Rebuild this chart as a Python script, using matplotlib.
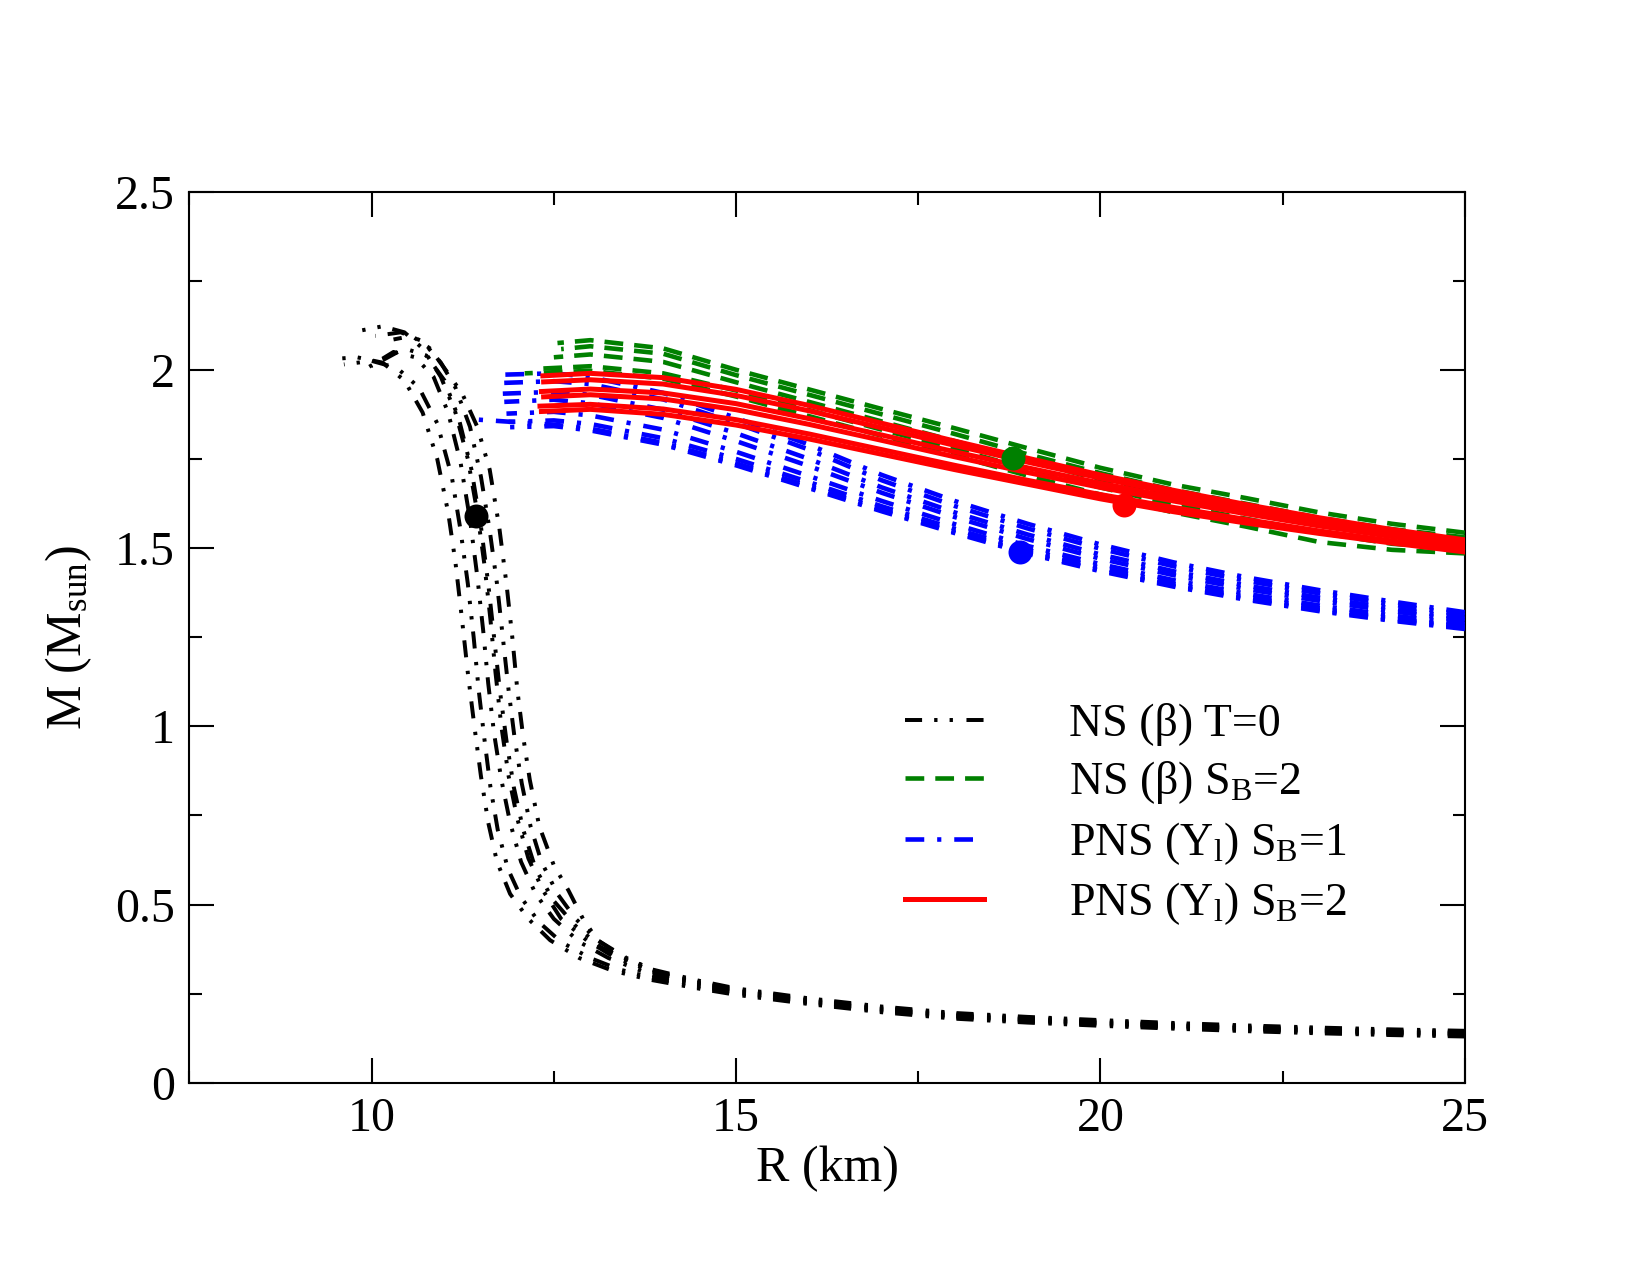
import numpy as np
import matplotlib.pyplot as plt
from matplotlib.ticker import MultipleLocator, FormatStrFormatter

plt.rcParams['font.family'] = ['Liberation Serif', 'DejaVu Serif']
plt.rcParams['mathtext.fontset'] = 'custom'
plt.rcParams['mathtext.rm'] = 'Liberation Serif'
plt.rcParams['mathtext.it'] = 'Liberation Serif:italic'
plt.rcParams['lines.scale_dashes'] = False

# ---- NS (beta) T=0 : black, dash-dot-dot ----
tail_r = [16, 17, 18, 19, 20, 21, 22, 23, 24, 25]
ns0_r = [
    [9.45, 9.8, 10.15, 10.45, 10.7, 10.9, 11.05, 11.15, 11.24, 11.32, 11.41, 11.5, 11.6, 11.72, 11.9,
     12.15, 12.45, 12.85, 13.3, 13.8, 14.5, 15] + tail_r,
    [9.62, 10.0, 10.35, 10.65, 10.9, 11.1, 11.22, 11.32, 11.4, 11.47, 11.55, 11.63, 11.73, 11.87, 12.05,
     12.3, 12.6, 13.0, 13.4, 13.85, 14.5, 15] + tail_r,
    [9.9, 10.3, 10.6, 10.85, 11.05, 11.22, 11.35, 11.45, 11.53, 11.6, 11.68, 11.78, 11.9, 12.05, 12.25,
     12.5, 12.85, 13.25, 13.85, 14.5, 15] + tail_r,
    [10.0, 10.45, 10.75, 11.0, 11.2, 11.37, 11.5, 11.6, 11.68, 11.76, 11.85, 11.95, 12.08, 12.25, 12.5,
     12.8, 13.15, 13.5, 13.9, 14.5, 15] + tail_r,
    [9.85, 10.15, 10.45, 10.7, 10.95, 11.15, 11.32, 11.45, 11.55, 11.63, 11.7, 11.78, 11.88, 12.0, 12.15,
     12.35, 12.6, 12.95, 13.35, 13.9, 14.5, 15] + tail_r,
    [10.05, 10.4, 10.7, 10.95, 11.15, 11.35, 11.5, 11.62, 11.72, 11.8, 11.88, 11.96, 12.06, 12.18, 12.33,
     12.55, 12.8, 13.1, 13.5, 13.9, 14.5, 15] + tail_r,
    [10.3, 10.55, 10.8, 11.05, 11.25, 11.45, 11.62, 11.75, 11.85, 11.93, 12.0, 12.08, 12.17, 12.3, 12.5,
     12.7, 12.9, 13.1, 13.45, 13.85, 14.5, 15] + tail_r,
]
ns0_m = [
    [2.03, 2.035, 2.02, 1.97, 1.88, 1.75, 1.6, 1.46, 1.3, 1.15, 1.0, 0.86, 0.73, 0.62, 0.53,
     0.46, 0.4, 0.35, 0.315, 0.29, 0.264, 0.247,
     0.221, 0.198, 0.18, 0.169, 0.16, 0.152, 0.145, 0.139, 0.134, 0.13],
    [2.015, 2.025, 2.005, 1.95, 1.85, 1.7, 1.55, 1.4, 1.25, 1.1, 0.96, 0.83, 0.71, 0.6, 0.52,
     0.45, 0.395, 0.35, 0.318, 0.295, 0.268, 0.251,
     0.224, 0.201, 0.183, 0.172, 0.163, 0.155, 0.148, 0.142, 0.137, 0.133],
    [2.0, 2.05, 2.035, 1.98, 1.88, 1.74, 1.58, 1.42, 1.27, 1.12, 0.98, 0.85, 0.73, 0.62, 0.53,
     0.46, 0.395, 0.35, 0.302, 0.272, 0.254,
     0.227, 0.204, 0.186, 0.175, 0.166, 0.158, 0.151, 0.145, 0.14, 0.136],
    [2.01, 2.06, 2.04, 1.97, 1.86, 1.72, 1.56, 1.4, 1.25, 1.1, 0.96, 0.83, 0.71, 0.6, 0.51,
     0.44, 0.38, 0.345, 0.308, 0.276, 0.256,
     0.229, 0.206, 0.188, 0.177, 0.168, 0.16, 0.153, 0.147, 0.142, 0.138],
    [2.11, 2.122, 2.105, 2.06, 1.98, 1.88, 1.75, 1.6, 1.45, 1.3, 1.15, 1.0, 0.86, 0.74, 0.63,
     0.54, 0.46, 0.4, 0.35, 0.31, 0.279, 0.259,
     0.231, 0.208, 0.19, 0.179, 0.17, 0.162, 0.155, 0.149, 0.144, 0.14],
    [2.095, 2.105, 2.08, 2.02, 1.95, 1.84, 1.7, 1.55, 1.4, 1.25, 1.1, 0.97, 0.84, 0.72, 0.62,
     0.53, 0.46, 0.4, 0.35, 0.313, 0.282, 0.262,
     0.234, 0.211, 0.193, 0.182, 0.173, 0.165, 0.158, 0.152, 0.147, 0.143],
    [2.085, 2.095, 2.06, 1.99, 1.93, 1.84, 1.72, 1.56, 1.4, 1.25, 1.1, 0.97, 0.85, 0.72, 0.61,
     0.54, 0.46, 0.4, 0.352, 0.318, 0.286, 0.265,
     0.237, 0.214, 0.196, 0.185, 0.176, 0.168, 0.161, 0.155, 0.15, 0.146],
]

# ---- NS (beta) S_B=2 : green dashed ----
grid_r = [13, 14, 15, 16, 17, 18, 19, 20, 21, 22, 23, 24, 25]
nsS2_start = [(12.55, 2.075), (12.6, 2.058), (12.5, 2.035), (12.3, 2.003), (12.1, 1.99)]
nsS2_m = [
    [2.083, 2.06, 2.0, 1.945, 1.89, 1.836, 1.78, 1.725, 1.678, 1.64, 1.6, 1.568, 1.543],
    [2.066, 2.045, 1.985, 1.93, 1.875, 1.82, 1.763, 1.71, 1.663, 1.624, 1.585, 1.553, 1.53],
    [2.043, 2.022, 1.965, 1.91, 1.855, 1.8, 1.745, 1.692, 1.645, 1.605, 1.567, 1.535, 1.513],
    [2.01, 1.99, 1.942, 1.887, 1.832, 1.778, 1.722, 1.67, 1.622, 1.582, 1.543, 1.512, 1.497],
    [1.997, 1.975, 1.925, 1.87, 1.815, 1.76, 1.703, 1.65, 1.6, 1.56, 1.517, 1.495, 1.485],
]

# ---- PNS (Y_l) S_B=1 : blue dash-dot ----
blue_r = [12.5, 13, 14, 15, 16, 17, 18, 19, 20, 21, 22, 23, 24, 25]
pnsS1_start = [(11.75, 1.986), (11.78, 1.963), (11.8, 1.933), (11.82, 1.91),
               (11.85, 1.877), (11.88, 1.854), (11.9, 1.839), (11.47, 1.86)]
pnsS1_m = [
    [1.99, 1.98, 1.935, 1.865, 1.79, 1.705, 1.632, 1.568, 1.51, 1.46, 1.418, 1.382, 1.35, 1.32],
    [1.968, 1.96, 1.917, 1.85, 1.776, 1.69, 1.618, 1.555, 1.498, 1.449, 1.408, 1.373, 1.342, 1.312],
    [1.938, 1.93, 1.888, 1.822, 1.75, 1.67, 1.6, 1.538, 1.482, 1.435, 1.395, 1.361, 1.331, 1.302],
    [1.916, 1.906, 1.865, 1.8, 1.73, 1.655, 1.587, 1.525, 1.47, 1.424, 1.385, 1.352, 1.323, 1.296],
    [1.882, 1.872, 1.832, 1.77, 1.702, 1.632, 1.567, 1.506, 1.455, 1.41, 1.372, 1.339, 1.311, 1.286],
    [1.858, 1.848, 1.808, 1.75, 1.685, 1.617, 1.554, 1.495, 1.445, 1.4, 1.363, 1.331, 1.303, 1.279],
    [1.842, 1.83, 1.79, 1.732, 1.668, 1.603, 1.542, 1.484, 1.435, 1.392, 1.355, 1.323, 1.296, 1.273],
    [1.846, 1.835, 1.795, 1.738, 1.673, 1.608, 1.546, 1.488, 1.438, 1.395, 1.358, 1.326, 1.299, 1.276],
]

# ---- PNS (Y_l) S_B=2 : red solid ----
pnsS2_start = [(12.35, 1.983), (12.36, 1.966), (12.33, 1.939), (12.36, 1.924), (12.31, 1.898), (12.33, 1.883)]
pnsS2_m = [
    [1.99, 1.978, 1.945, 1.9, 1.85, 1.8, 1.752, 1.705, 1.662, 1.622, 1.585, 1.552, 1.523],
    [1.972, 1.96, 1.928, 1.885, 1.837, 1.788, 1.741, 1.696, 1.654, 1.615, 1.579, 1.547, 1.518],
    [1.946, 1.935, 1.905, 1.863, 1.817, 1.77, 1.725, 1.682, 1.642, 1.605, 1.57, 1.539, 1.511],
    [1.93, 1.918, 1.888, 1.847, 1.802, 1.756, 1.712, 1.67, 1.632, 1.596, 1.562, 1.532, 1.505],
    [1.903, 1.89, 1.86, 1.82, 1.776, 1.732, 1.69, 1.65, 1.614, 1.58, 1.548, 1.52, 1.494],
    [1.889, 1.875, 1.845, 1.806, 1.763, 1.72, 1.679, 1.638, 1.602, 1.57, 1.541, 1.514, 1.489],
]

# dots marked on the curves
dot_r = [11.43, 18.8, 18.9, 20.32]
dot_m = [1.59, 1.753, 1.488, 1.62]
dot_c = ['black', 'green', 'blue', 'red']

labels = ['NS (β) T=0', r'NS (β) S$_\mathrm{B}$=2',
          r'PNS (Y$_\mathrm{l}$) S$_\mathrm{B}$=1', r'PNS (Y$_\mathrm{l}$) S$_\mathrm{B}$=2']

dash_ns0 = (0, (8.2, 5.8, 1.6, 5.8, 1.6, 6.5))
dash_green = (0, (9, 5.3))
dash_blue = (0, (9, 6.2, 2, 6.2))

fig = plt.figure(figsize=(11, 8.5), dpi=150)
ax = fig.add_axes([0.1148, 0.1507, 0.773, 0.6991])

h = {}
# curves are drawn from the R=25 end so the dash phases line up on the common tail
for r, m in zip(ns0_r, ns0_m):
    h[0], = ax.plot(r[::-1], m[::-1], color='black', lw=1.9, ls=dash_ns0, dash_capstyle='butt', zorder=2)
for (r0, m0), m in zip(pnsS1_start, pnsS1_m):
    h[2], = ax.plot(([r0] + blue_r)[::-1], ([m0] + m)[::-1], color='blue', lw=2.2, ls=dash_blue,
                    dash_capstyle='butt', zorder=3)
for (r0, m0), m in zip(nsS2_start, nsS2_m):
    h[1], = ax.plot(([r0] + grid_r)[::-1], ([m0] + m)[::-1], color='green', lw=2.2, ls=dash_green,
                    dash_capstyle='butt', zorder=4)
for (r0, m0), m in zip(pnsS2_start, pnsS2_m):
    h[3], = ax.plot(([r0] + grid_r)[::-1], ([m0] + m)[::-1], color='red', lw=2.4, ls='-', zorder=5)

for x, y, c in zip(dot_r, dot_m, dot_c):
    ax.plot(x, y, 'o', color=c, ms=10.5, zorder=6)

ax.set_xlim(7.5, 25)
ax.set_ylim(0, 2.5)
ax.xaxis.set_major_locator(MultipleLocator(5))
ax.xaxis.set_minor_locator(MultipleLocator(2.5))
ax.yaxis.set_major_locator(MultipleLocator(0.5))
ax.yaxis.set_minor_locator(MultipleLocator(0.25))
ax.yaxis.set_major_formatter(FormatStrFormatter('%g'))
ax.tick_params(which='both', direction='in', top=True, right=True, width=1.0, labelsize=23)
ax.tick_params(which='major', length=12, pad=7)
ax.tick_params(which='minor', length=6)
for s in ax.spines.values():
    s.set_linewidth(1.0)

ax.set_xlabel('R (km)', fontsize=24, labelpad=2)
ax.set_ylabel(r'M (M$_\mathrm{sun}$)', fontsize=24, labelpad=10)

ax.legend([h[0], h[1], h[2], h[3]], labels, loc='upper left', bbox_to_anchor=(0.561, 0.426),
          frameon=False, fontsize=22, handlelength=1.72, handletextpad=1.85, labelspacing=0.29,
          borderpad=0, borderaxespad=0)

fig.savefig('out.png', dpi=150)
